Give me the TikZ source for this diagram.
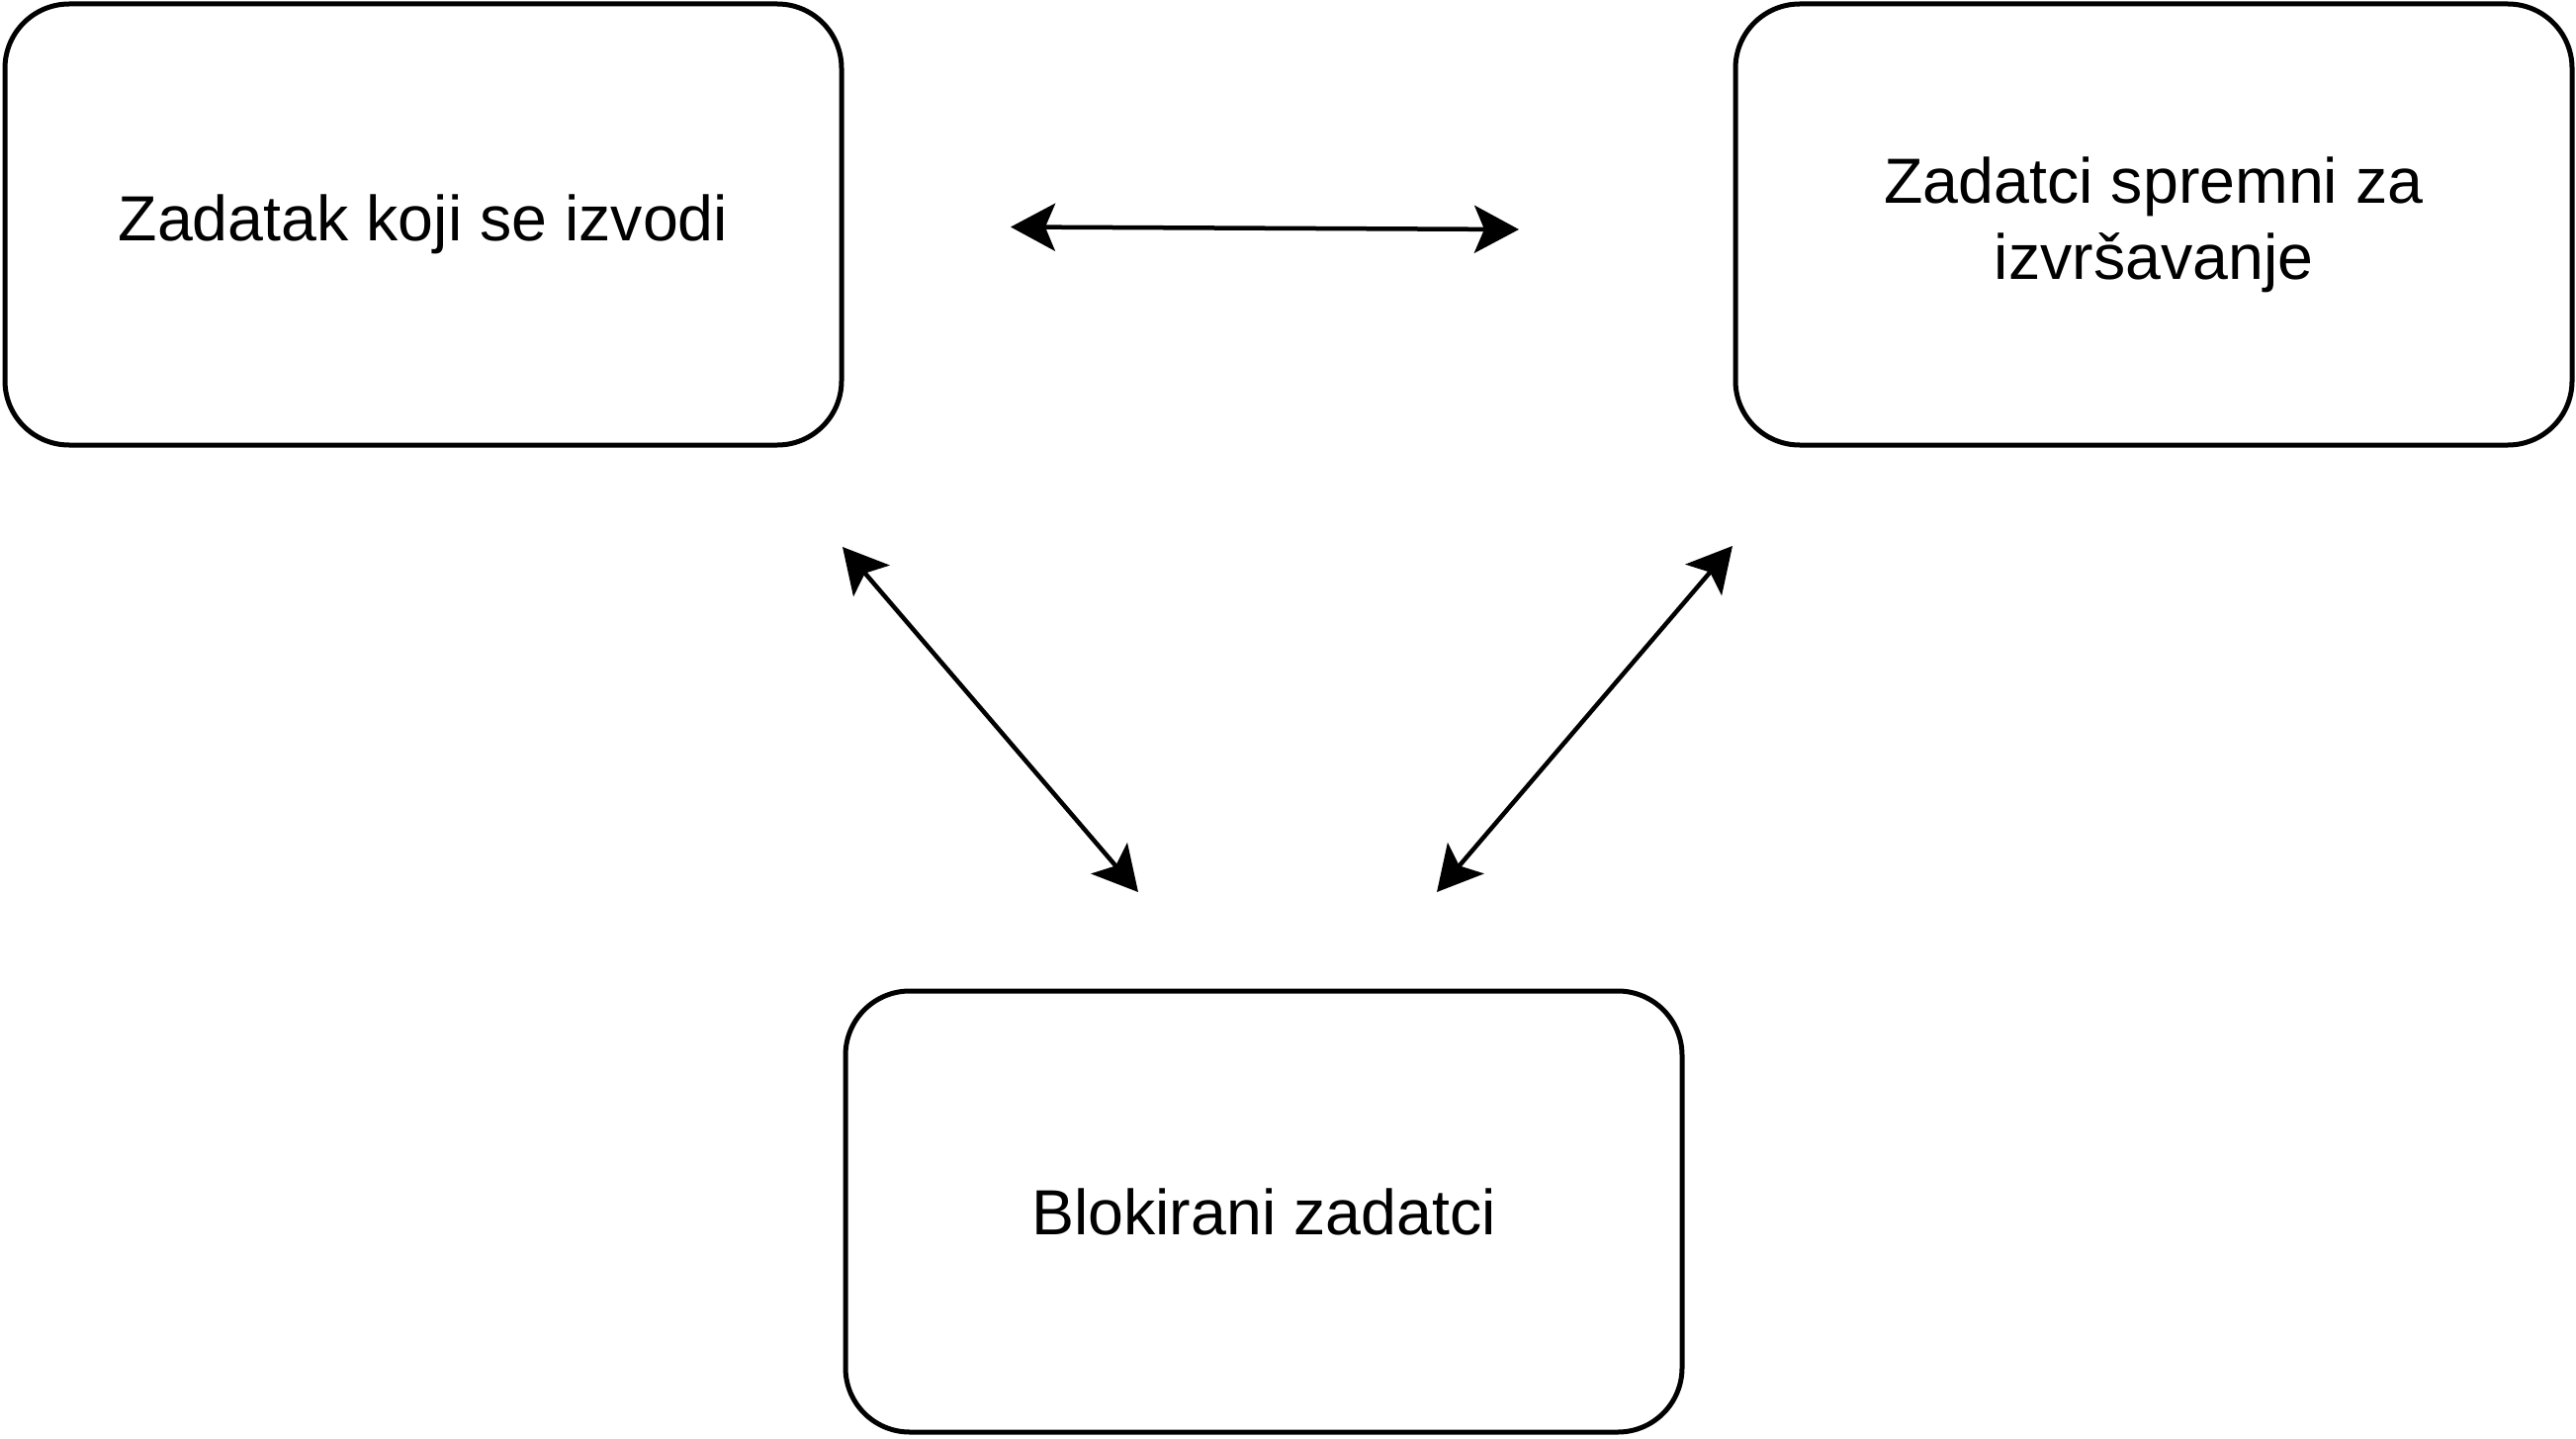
\documentclass[tikz,border=0pt]{standalone}
\usepackage{fontspec}
\setmainfont{Liberation Sans}
\usetikzlibrary{arrows.meta}
\begin{document}
\begin{tikzpicture}[x=1pt,y=-1pt,
  box/.style={draw=black, line width=5pt, rounded corners=65pt,
    minimum width=846pt, minimum height=446pt, inner sep=0pt,
    align=center, font=\fontsize{64.5}{77}\selectfont},
  link/.style={line width=4.5pt, {Stealth[length=45pt,width=48pt,inset=10pt]}-{Stealth[length=45pt,width=48pt,inset=10pt]}}]
\useasboundingbox[fill=white] (0,0) rectangle (2605,1455);
\node[box] (run) at (428,227) {Zadatak koji se izvodi};
\node[box] (ready) at (2178,227) {Zadatci spremni za\\izvršavanje};
\node[box] (blocked) at (1278,1225) {Blokirani zadatci};
\coordinate (a1) at (1022,229.5);
\coordinate (a2) at (1536,232);
\coordinate (b1) at (852,553);
\coordinate (b2) at (1151,902);
\coordinate (c1) at (1752,552);
\coordinate (c2) at (1453,902);
\draw[link] (a1) -- (a2);
\draw[link] (b1) -- (b2);
\draw[link] (c1) -- (c2);
\end{tikzpicture}
\end{document}
